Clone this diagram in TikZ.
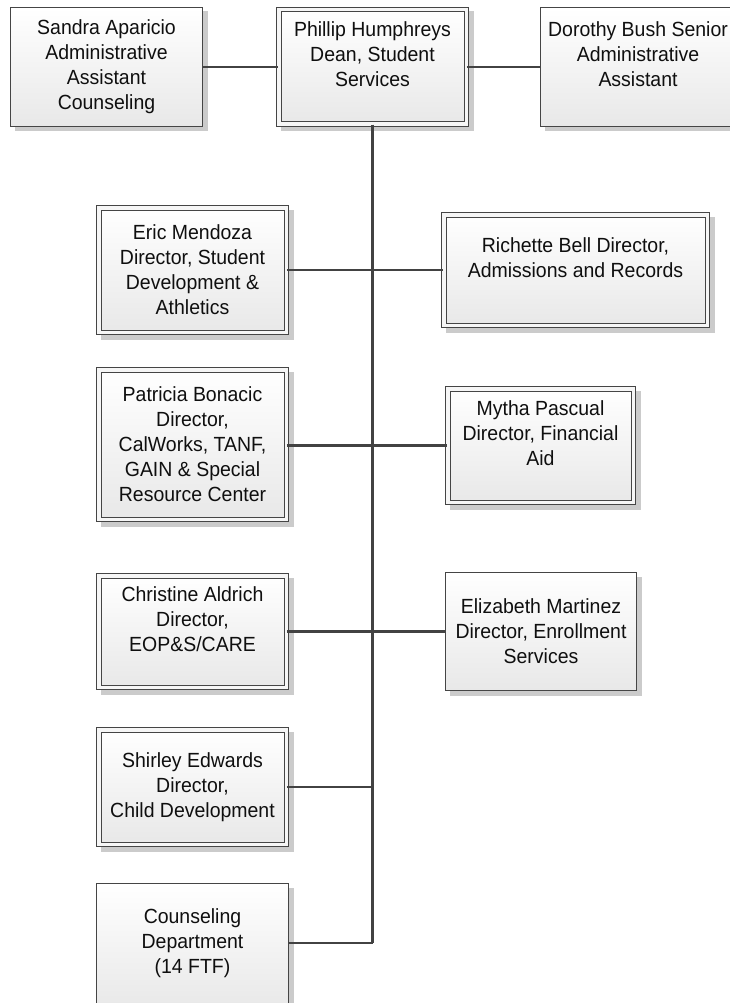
\documentclass[tikz,border=0pt]{standalone}
\usepackage{fontspec}
\newfontfamily\orgfont{Liberation Sans}[FakeStretch=0.95]
\usetikzlibrary{calc,backgrounds}
\definecolor{boxc}{HTML}{454545}
\definecolor{linec}{HTML}{424242}
\definecolor{shadowc}{HTML}{CBCBCB}
\definecolor{boxbot}{HTML}{E8E8E8}
\definecolor{gapc}{HTML}{F6F6F6}
\definecolor{txtc}{HTML}{0F0F0F}
\newcommand{\orgbox}[7]{%
  \fill[shadowc] (#2+4.5,#3+4.5) rectangle (#4+4.5,#5+4.5);
  \node[#6, minimum width={#4-#2-#7}, minimum height={#5-#3-#7}] (#1) at ({(#2+#4)/2},{(#3+#5)/2}) {};
}
\newcommand{\orgtext}[3]{\node[txt] (#1t) at ($(#1.center)+(0,#2)$) {#3};}
\tikzset{
  sbox/.style={draw=boxc, line width=1pt, top color=white, bottom color=boxbot, inner sep=0pt},
  dbox/.style={sbox, double=gapc, double distance=3.5pt},
  txt/.style={font=\orgfont\fontsize{20.5}{25}\selectfont, align=center, inner sep=0pt, text=txtc},
  conn/.style={draw=linec, line width=2.8pt},
}
\begin{document}
\begin{tikzpicture}[x=1pt,y=-1pt]
\useasboundingbox (0,0) rectangle (729,1003);
\fill[white] (0,0) rectangle (729,1003);
% boxes
\orgbox{sandra}{10}{7}{203}{127}{sbox}{1}
\orgbox{phillip}{276}{7}{469}{127}{dbox}{5.5}
\orgbox{dorothy}{540}{7}{736}{127}{sbox}{1}
\orgbox{eric}{96}{205}{289}{335}{dbox}{5.5}
\orgbox{richette}{441}{212}{710}{328}{dbox}{5.5}
\orgbox{patricia}{96}{367}{289}{522}{dbox}{5.5}
\orgbox{mytha}{445}{386}{636}{505}{dbox}{5.5}
\orgbox{christine}{96}{573}{289}{690}{dbox}{5.5}
\orgbox{elizabeth}{445}{572}{637}{691}{sbox}{1}
\orgbox{shirley}{96}{727}{289}{847}{dbox}{5.5}
\orgbox{counsel}{96}{883}{289}{1010}{sbox}{1}
% texts
\orgtext{sandra}{0}{Sandra Aparicio\\Administrative\\Assistant\\Counseling}
\orgtext{phillip}{-12.5}{Phillip Humphreys\\Dean, Student\\Services}
\orgtext{dorothy}{-12.5}{Dorothy Bush Senior\\Administrative\\Assistant}
\orgtext{eric}{0}{Eric Mendoza\\Director, Student\\Development \&\\Athletics}
\orgtext{richette}{-12.5}{Richette Bell Director,\\Admissions and Records}
\orgtext{patricia}{0}{Patricia Bonacic\\Director,\\CalWorks, TANF,\\GAIN \& Special\\Resource Center}
\orgtext{mytha}{-12.5}{Mytha Pascual\\Director, Financial\\Aid}
\orgtext{christine}{-12.5}{Christine Aldrich\\Director,\\EOP\&S/CARE}
\orgtext{elizabeth}{0}{Elizabeth Martinez\\Director, Enrollment\\Services}
\orgtext{shirley}{0}{Shirley Edwards\\Director,\\Child Development}
\orgtext{counsel}{-3.5}{Counseling\\Department\\(14 FTF)}
% connectors
\coordinate (trunkend) at (372.5,943);
\draw[conn] (sandra.east) -- (phillip.west);
\draw[conn] (phillip.east) -- (dorothy.west);
\draw[conn] (phillip.south) -- (trunkend);
\draw[conn] (eric.east) -- (eric.east -| richette.west);
\draw[conn] (patricia.east |- mytha.west) -- (mytha.west);
\draw[conn] (christine.east) -- (christine.east -| elizabeth.west);
\draw[conn] (shirley.east) -- (shirley.east -| trunkend);
\draw[conn] (counsel.east |- trunkend) -- (trunkend);
\end{tikzpicture}
\end{document}
